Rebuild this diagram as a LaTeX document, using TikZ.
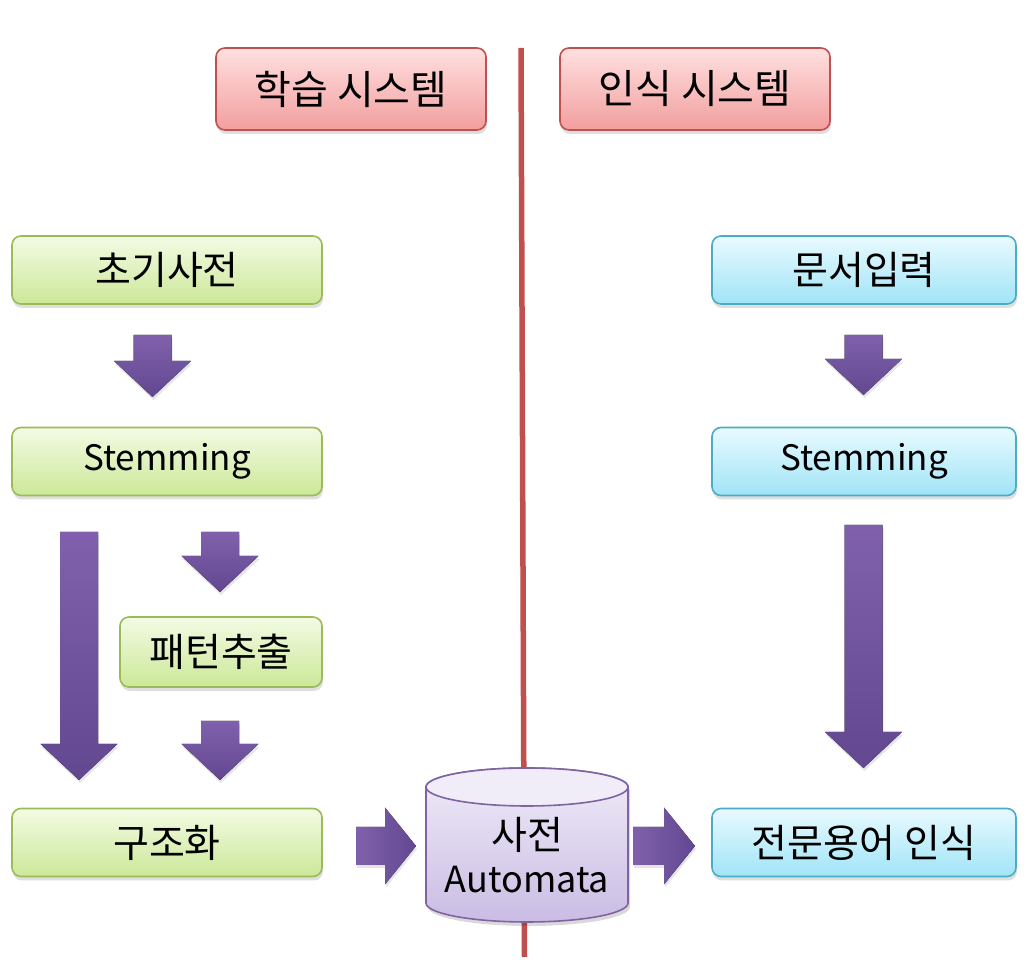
\documentclass[tikz,border=0pt]{standalone}
\usepackage{fontspec}
\setmainfont{Noto Sans CJK KR}
\usetikzlibrary{shadows}
\definecolor{redline}{RGB}{192,80,77}
\definecolor{redtop}{RGB}{255,224,224}
\definecolor{redbot}{RGB}{242,158,158}
\definecolor{redborder}{RGB}{192,80,77}
\definecolor{grtop}{RGB}{243,251,228}
\definecolor{grbot}{RGB}{204,232,152}
\definecolor{grborder}{RGB}{155,187,89}
\definecolor{bltop}{RGB}{233,250,255}
\definecolor{blbot}{RGB}{160,228,247}
\definecolor{blborder}{RGB}{75,172,198}
\definecolor{cytop}{RGB}{240,236,248}
\definecolor{cybot}{RGB}{202,188,228}
\definecolor{cyborder}{RGB}{128,100,162}
\definecolor{arlight}{RGB}{128,96,172}
\definecolor{ardark}{RGB}{98,72,144}
\newcommand{\kofont}{\fontsize{39}{46}\selectfont}
\newcommand{\enfont}{\fontsize{35}{42}\selectfont}
\tikzset{
  box/.style={rounded corners=9pt, line width=1.6pt, minimum height=68pt,
    inner sep=0pt, font=\kofont,
    drop shadow={opacity=0.25, shadow xshift=1pt, shadow yshift=-4pt}},
  redbox/.style={box, draw=redborder, top color=redtop, bottom color=redbot, minimum width=270pt, minimum height=82pt, font=\fontsize{40}{46}\selectfont},
  greenbox/.style={box, draw=grborder, top color=grtop, bottom color=grbot},
  bluebox/.style={box, draw=blborder, top color=bltop, bottom color=blbot, minimum width=304pt},
  vfill/.style={top color=arlight, bottom color=ardark, draw=none},
  hfill/.style={left color=arlight, right color=ardark, draw=none},
  cyltext/.style={inner sep=0pt},
}
\newcommand{\downblk}[4]{% name, x, ytop, ytip
  \coordinate (#1s) at (#2,#3);
  \coordinate (#1e) at (#2,#4);
  \fill[vfill, drop shadow={opacity=0.2, shadow xshift=1pt, shadow yshift=-3pt}]
    ({#2-19},#3) -- ({#2+19},#3) -- ({#2+19},{#4+36}) -- ({#2+38.5},{#4+36})
    -- (#1e) -- ({#2-38.5},{#4+36}) -- ({#2-19},{#4+36}) -- cycle;}
\newcommand{\rightblk}[4]{% name, y, xleft, xtip
  \coordinate (#1s) at (#3,#2);
  \coordinate (#1e) at (#4,#2);
  \fill[hfill, drop shadow={opacity=0.2, shadow xshift=1pt, shadow yshift=-3pt}]
    (#3,{#2+19}) -- ({#4-31},{#2+19}) -- ({#4-31},{#2+38.5}) -- (#1e)
    -- ({#4-31},{#2-38.5}) -- ({#4-31},{#2-19}) -- (#3,{#2-19}) -- cycle;}
\begin{document}
\begin{tikzpicture}[x=1pt,y=1pt]
\useasboundingbox[fill=white] (0,0) rectangle (1029,971);
% divider
\coordinate (ltop) at (521,923);
\coordinate (lbot) at (524.5,14);
\draw[redline, line width=5.5pt] (ltop) -- (lbot);
% titles
\node[redbox] (learn) at (351,882) {학습 시스템};
\node[redbox] (recog) at (695,882) {인식 시스템};
% left column
\node[greenbox, minimum width=310pt] (init) at (167,701) {초기사전};
\node[greenbox, minimum width=310pt, font=\enfont] (stemL) at (167,509.5) {Stemming};
\node[greenbox, minimum width=202pt, minimum height=70pt] (pattern) at (221,319) {패턴추출};
\node[greenbox, minimum width=310pt] (struct) at (167,128.5) {구조화};
% right column
\node[bluebox] (input) at (864,701) {문서입력};
\node[bluebox, font=\enfont] (stemR) at (864,509.5) {Stemming};
\node[bluebox] (term) at (864,128.5) {전문용어 인식};
% cylinder
\fill[black, opacity=0.15] (428,180) -- (428,64) arc[start angle=180, end angle=360, x radius=101, y radius=19] -- (630,180) arc[start angle=0, end angle=180, x radius=101, y radius=19] -- cycle;
\path[top color=cytop, bottom color=cybot, draw=cyborder, line width=1.6pt]
  (426,184) -- (426,68) arc[start angle=180, end angle=360, x radius=101, y radius=19]
  -- (628,184) arc[start angle=0, end angle=180, x radius=101, y radius=19] -- cycle;
\draw[cyborder, line width=1.6pt, fill=cytop] (527,184) ellipse[x radius=101, y radius=19];
\node[cyltext, font=\kofont] (dict) at (527,136) {사전};
\node[cyltext, font=\fontsize{36}{42}\selectfont] (dictb) at (527,91) {Automata};
% arrows
\downblk{a1}{152.5}{636}{574}
\downblk{a2}{220}{439}{379}
\downblk{a3}{79}{439}{191}
\downblk{a4}{220}{250}{191}
\downblk{a5}{863.5}{636}{576}
\downblk{a6}{863.5}{446}{203}
\rightblk{h1}{125}{356}{416}
\rightblk{h2}{125}{633}{695}
\end{tikzpicture}
\end{document}
